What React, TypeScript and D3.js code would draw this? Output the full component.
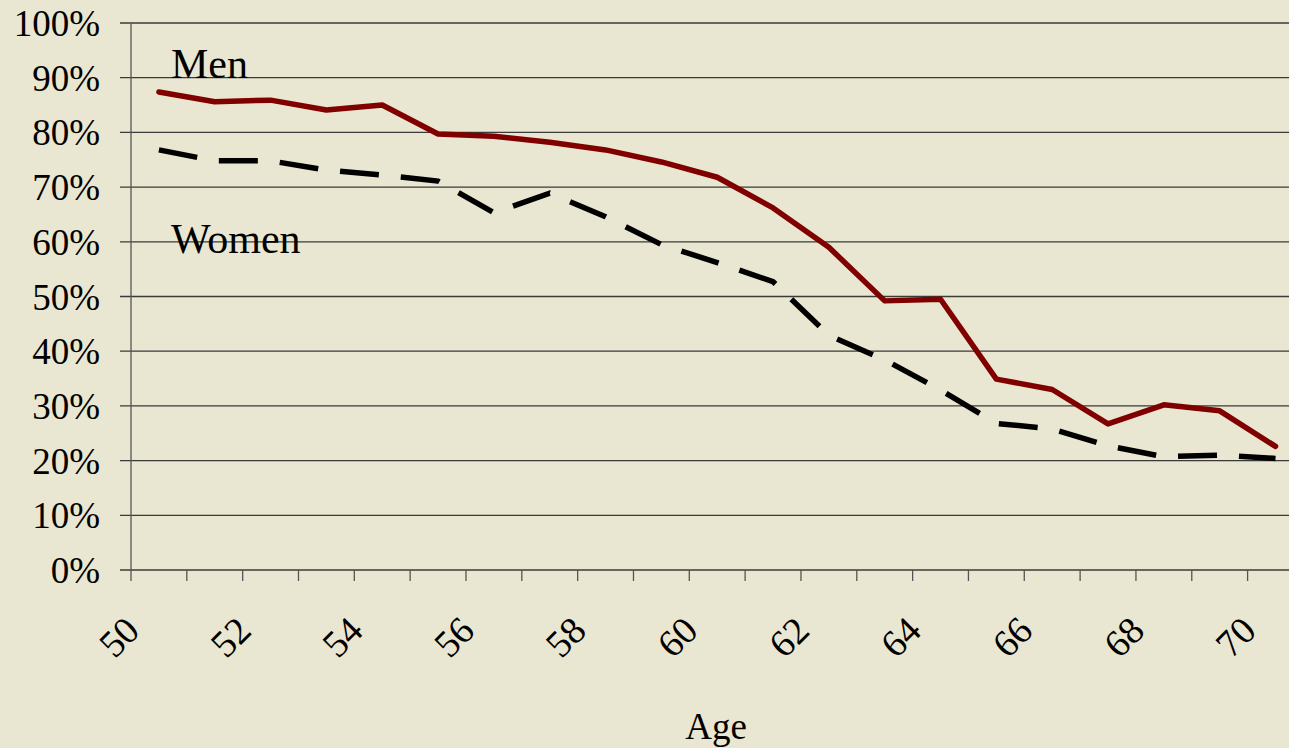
import { useMemo } from 'react';
import * as d3 from 'd3';

const WIDTH = 1289;
const HEIGHT = 748;
const MARGIN = { top: 23, left: 131, bottom: 178 };
const STEP = 55.83;

const ages = d3.range(50, 71);
const menValues = [
  87.4, 85.6, 85.9, 84.1, 85.0, 79.7, 79.3, 78.2, 76.8, 74.6, 71.8,
  66.2, 59.0, 49.2, 49.5, 34.9, 33.0, 26.7, 30.2, 29.1, 22.6,
];
const womenValues = [
  76.8, 74.8, 74.8, 73.1, 72.2, 71.1, 65.3, 68.9, 64.6, 59.5, 56.2,
  52.7, 42.9, 38.4, 32.9, 26.8, 25.8, 22.7, 20.7, 21.0, 20.4,
];
const yTicks = [0, 10, 20, 30, 40, 50, 60, 70, 80, 90, 100];
const xLabels = [50, 52, 54, 56, 58, 60, 62, 64, 66, 68, 70];

const FONT = '"Liberation Serif", "Times New Roman", serif';

export default function App() {
  const boundsBottom = HEIGHT - MARGIN.bottom;

  const xScale = useMemo(
    () =>
      d3
        .scaleBand<number>()
        .domain(ages)
        .range([MARGIN.left, MARGIN.left + STEP * ages.length]),
    []
  );
  const yScale = useMemo(
    () => d3.scaleLinear().domain([0, 100]).range([boundsBottom, MARGIN.top]),
    [boundsBottom]
  );

  const cx = (a: number) => (xScale(a) || 0) + xScale.bandwidth() / 2;

  const lineFor = (vals: number[]) =>
    d3
      .line<number>()
      .x((_, i) => cx(ages[i]))
      .y((v) => yScale(v))(vals) || '';

  const xEnd = MARGIN.left + STEP * ages.length;

  return (
    <div style={{ position: 'fixed', left: 0, top: 0 }}>
      <svg width={WIDTH} height={HEIGHT} style={{ display: 'block' }} fontFamily={FONT}>
        <rect width={WIDTH} height={HEIGHT} fill="#E9E6D1" />

        {/* gridlines + y ticks */}
        {yTicks.map((t) => (
          <g key={t}>
            <line
              x1={MARGIN.left - 11}
              x2={t === 0 ? xEnd : WIDTH}
              y1={yScale(t)}
              y2={yScale(t)}
              stroke="#3a3a3a"
              strokeWidth={1.3}
            />
            <text
              x={100}
              y={yScale(t) + 13}
              textAnchor="end"
              fontSize={37}
              fill="#000"
            >
              {t}%
            </text>
          </g>
        ))}

        {/* y axis */}
        <line
          x1={MARGIN.left}
          x2={MARGIN.left}
          y1={MARGIN.top}
          y2={boundsBottom}
          stroke="#555"
          strokeWidth={1.3}
        />

        {/* x ticks */}
        {ages.map((a) => (
          <line
            key={a}
            x1={xScale(a)}
            x2={xScale(a)}
            y1={boundsBottom}
            y2={boundsBottom + 11}
            stroke="#555"
            strokeWidth={1.3}
          />
        ))}
        {xLabels.map((a) => (
          <text
            key={a}
            transform={`translate(${cx(a) - 37},${boundsBottom + 70}) rotate(-45)`}
            textAnchor="middle"
            dominantBaseline="middle"
            fontSize={38}
          >
            {a}
          </text>
        ))}

        {/* series */}
        <path
          d={lineFor(womenValues)}
          fill="none"
          stroke="#000"
          strokeWidth={5.5}
          strokeDasharray="39 22"
        />
        <path
          d={lineFor(menValues)}
          fill="none"
          stroke="#800000"
          strokeWidth={5.5}
          strokeLinejoin="round"
          strokeLinecap="round"
        />

        <text x={171} y={78} fontSize={42}>
          Men
        </text>
        <text x={171} y={253} fontSize={42}>
          Women
        </text>
        <text x={716} y={739} textAnchor="middle" fontSize={37}>
          Age
        </text>
      </svg>
    </div>
  );
}
